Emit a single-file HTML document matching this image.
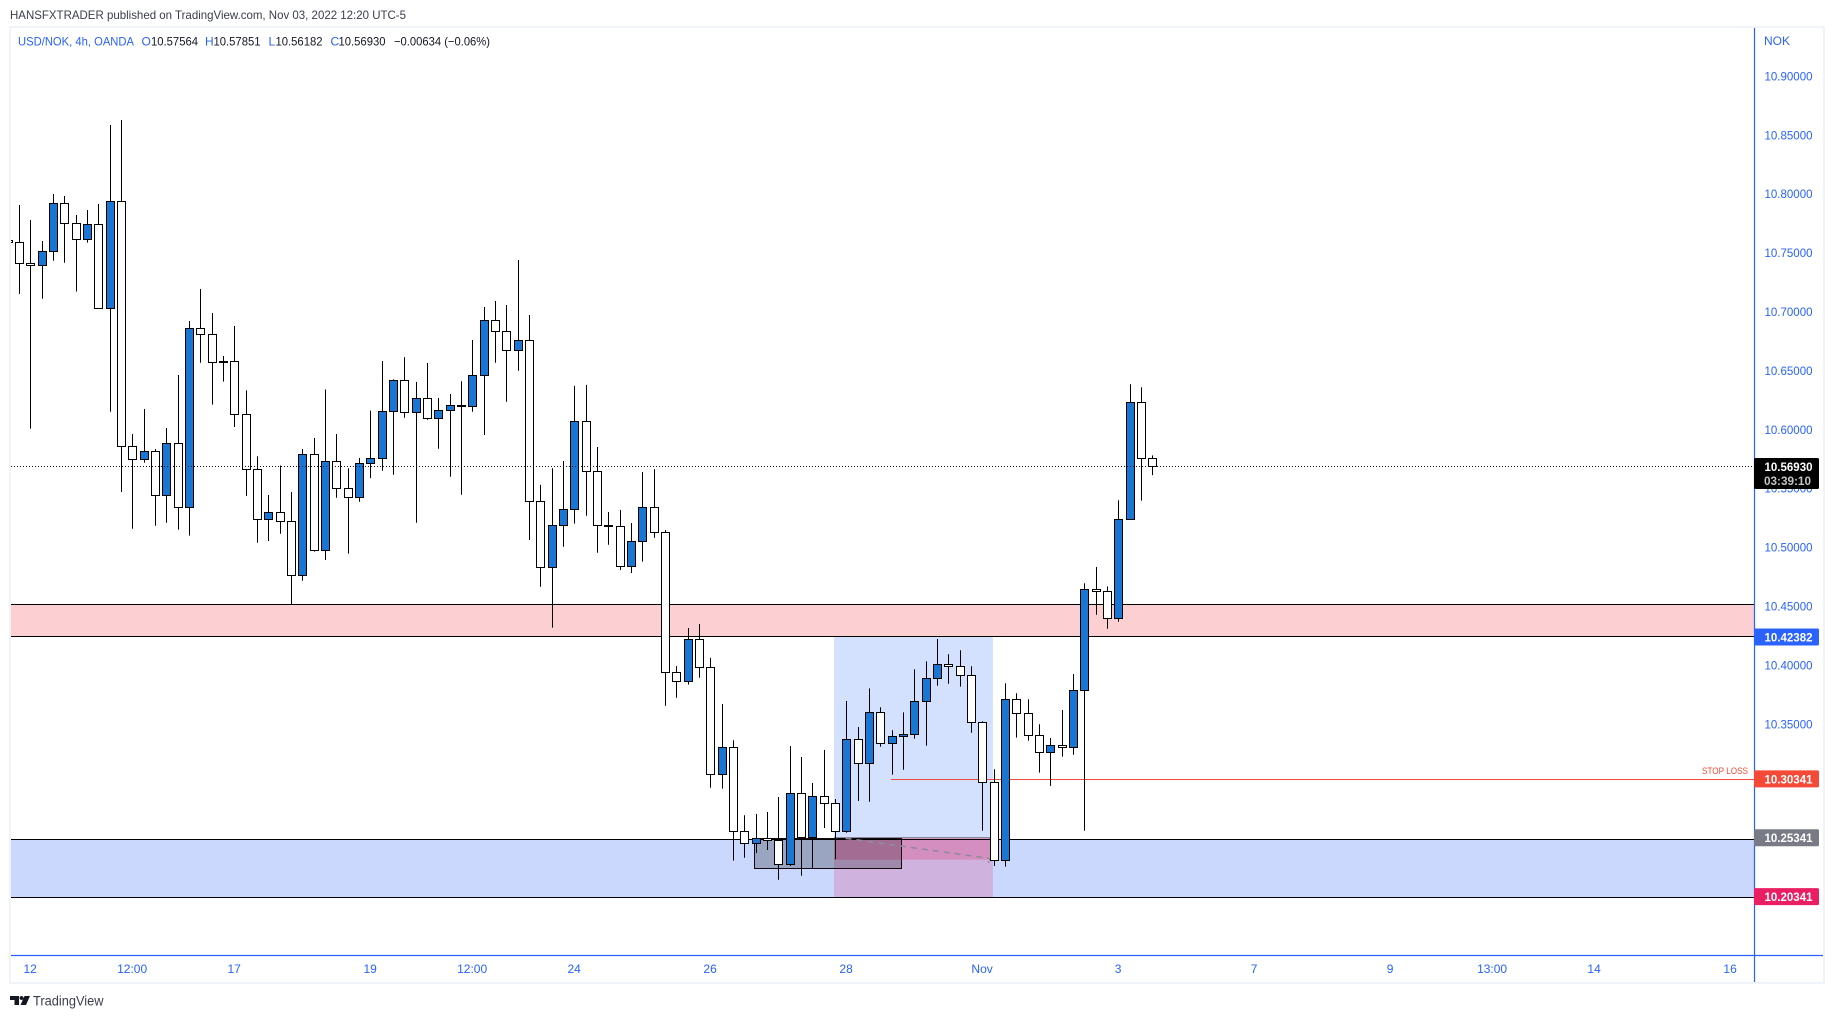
<!DOCTYPE html>
<html lang="en">
<head>
<meta charset="utf-8">
<title>USD/NOK 4h chart</title>
<style>
html,body{margin:0;padding:0;width:1834px;height:1018px;overflow:hidden;background:#fff}
svg{position:absolute;left:0;top:0;display:block}
text{font-family:"Liberation Sans",sans-serif;font-size:12px}
</style>
</head>
<body>
<svg id="chart" xmlns="http://www.w3.org/2000/svg" width="1834" height="1018" viewBox="0 0 1834 1018">
  <defs><clipPath id="pane-clip"><rect x="11" y="28" width="1743" height="927"/></clipPath></defs>
  <text x="10" y="19" fill="#3a3e4a" textLength="396" lengthAdjust="spacingAndGlyphs">HANSFXTRADER published on TradingView.com, Nov 03, 2022 12:20 UTC-5</text>
  <rect x="10" y="27" width="1814" height="956" fill="#fff" stroke="#f0f3fa" stroke-width="2"/>
  <g id="plot" clip-path="url(#pane-clip)"></g>
  <g>
    <text x="18" y="45.5" fill="#2962ff" textLength="116" lengthAdjust="spacingAndGlyphs">USD/NOK, 4h, OANDA</text>
    <text x="141.5" y="45.5" fill="#2962ff">O</text>
    <text x="151" y="45.5" fill="#131722" textLength="47" lengthAdjust="spacingAndGlyphs">10.57564</text>
    <text x="205" y="45.5" fill="#2962ff">H</text>
    <text x="213.5" y="45.5" fill="#131722" textLength="47" lengthAdjust="spacingAndGlyphs">10.57851</text>
    <text x="268.5" y="45.5" fill="#2962ff">L</text>
    <text x="275.5" y="45.5" fill="#131722" textLength="47" lengthAdjust="spacingAndGlyphs">10.56182</text>
    <text x="330.5" y="45.5" fill="#2962ff">C</text>
    <text x="338.5" y="45.5" fill="#131722" textLength="47" lengthAdjust="spacingAndGlyphs">10.56930</text>
    <text x="394" y="45.5" fill="#131722" textLength="96" lengthAdjust="spacingAndGlyphs">−0.00634 (−0.06%)</text>
  </g>
  <line x1="1754.5" y1="28" x2="1754.5" y2="982" stroke="#2962ff" stroke-width="1.2"/>
  <line x1="11" y1="955.5" x2="1823" y2="955.5" stroke="#2962ff" stroke-width="1.2"/>
  <text x="1764" y="45" fill="#2962ff">NOK</text>
  <g id="yticks"></g>
  <g id="xticks"></g>
  <g id="tags"></g>
  <g>
    <path fill="#131722" d="M10 996h9v9h-4.5v-5H10zM21.5 996a2 2 0 1 1-.01 0zM24.5 996h5.5l-4 9h-5.5z"/>
    <text x="33" y="1005.5" fill="#3a3e4a" style="font-size:13.5px" textLength="70.5" lengthAdjust="spacingAndGlyphs">TradingView</text>
  </g>
</svg>
<script>
// ---- candle data (first entry is the bar clipped at the left edge) ----
const opens = [10.7611,10.7594,10.7416,10.7399,10.7518,10.7925,10.7756,10.7620,10.7747,10.7034,10.7942,
10.5862,10.5752,10.5820,10.5446,10.5888,10.5345,10.6864,10.6813,10.6570,10.6584,
10.6134,10.5667,10.5243,10.5302,10.5226,10.4767,10.5795,10.4980,10.5735,10.5506,
10.5429,10.5718,10.5760,10.6160,10.6423,10.6151,10.6270,10.6100,10.6168,10.6199,
10.6202,10.6465,10.6932,10.6839,10.6677,10.6762,10.5396,10.4835,10.5192,10.5328,
10.6075,10.5650,10.5180,10.5184,10.4844,10.5056,10.5345,10.5132,10.3944,10.3867,
10.4224,10.3986,10.3078,10.3307,10.2594,10.2492,10.2535,10.2518,10.2314,10.2917,
10.2543,10.2891,10.2832,10.2594,10.3375,10.3171,10.3604,10.3341,10.3401,10.3417,
10.3698,10.3893,10.4012,10.3995,10.3918,10.3520,10.3010,10.2348,10.3715,10.3596,
10.3409,10.3265,10.3324,10.3307,10.3792,10.4649,10.4632,10.4402,10.5243,10.6236,10.57564];
const highs = [10.7620,10.7911,10.7783,10.7605,10.8004,10.7987,10.7826,10.7868,10.7919,10.8590,10.8632,
10.5967,10.6179,10.5840,10.6018,10.6468,10.6926,10.7198,10.6994,10.6629,10.6884,
10.6337,10.5778,10.5449,10.5700,10.5473,10.5840,10.5933,10.6345,10.5967,10.5676,
10.5763,10.6165,10.6587,10.6431,10.6620,10.6408,10.6570,10.6272,10.6306,10.6416,
10.6765,10.7045,10.7096,10.7062,10.7444,10.6977,10.5535,10.5676,10.5738,10.6375,
10.6384,10.5857,10.5305,10.5322,10.5211,10.5644,10.5669,10.5152,10.3997,10.4320,
10.4354,10.4066,10.3675,10.3367,10.2730,10.2741,10.2758,10.2885,10.3318,10.3225,
10.3004,10.3284,10.2868,10.3700,10.3480,10.3808,10.3647,10.3452,10.3604,10.3970,
10.4037,10.4227,10.4097,10.4131,10.3995,10.3528,10.3121,10.3851,10.3766,10.3715,
10.3503,10.3386,10.3624,10.3930,10.4700,10.4838,10.4673,10.5404,10.6389,10.6364,10.57851];
const lows = [10.7585,10.7155,10.6012,10.7115,10.7438,10.7421,10.7177,10.7591,10.7034,10.6156,10.5476,
10.5163,10.5723,10.5188,10.5214,10.5155,10.5104,10.6572,10.6216,10.6411,10.6026,
10.5442,10.5044,10.5059,10.5120,10.4521,10.4721,10.4968,10.4897,10.5426,10.4951,
10.5392,10.5592,10.5655,10.5621,10.6105,10.5214,10.6088,10.5842,10.5604,10.5451,
10.6156,10.5958,10.6572,10.6241,10.6504,10.5067,10.4670,10.4323,10.5010,10.5206,
10.5273,10.4959,10.5027,10.4812,10.4787,10.4883,10.5086,10.3660,10.3728,10.3839,
10.3898,10.2964,10.2956,10.2345,10.2370,10.2410,10.2435,10.2183,10.2300,10.2217,
10.2280,10.2622,10.2357,10.2582,10.2851,10.2845,10.3312,10.3075,10.3117,10.3380,
10.3321,10.3830,10.3847,10.3822,10.3431,10.2599,10.2300,10.2294,10.3389,10.3363,
10.3092,10.2980,10.3228,10.3244,10.2599,10.4433,10.4314,10.4373,10.5243,10.5401,10.56182];
const closes = [10.7594,10.7416,10.7399,10.7518,10.7925,10.7756,10.7620,10.7747,10.7034,10.7942,10.5862,
10.5752,10.5820,10.5446,10.5888,10.5345,10.6864,10.6813,10.6576,10.6581,10.6134,
10.5667,10.5243,10.5302,10.5226,10.4767,10.5795,10.4980,10.5735,10.5506,10.5429,
10.5718,10.5760,10.6160,10.6423,10.6151,10.6270,10.6100,10.6168,10.6210,10.6210,
10.6465,10.6932,10.6839,10.6677,10.6762,10.5396,10.4835,10.5192,10.5328,10.6075,
10.5650,10.5192,10.5192,10.4844,10.5056,10.5345,10.5132,10.3944,10.3867,10.4224,
10.3986,10.3078,10.3307,10.2594,10.2492,10.2535,10.2515,10.2314,10.2917,10.2543,
10.2891,10.2832,10.2594,10.3375,10.3171,10.3604,10.3341,10.3401,10.3417,10.3698,
10.3893,10.4012,10.3995,10.3918,10.3520,10.3010,10.2348,10.3715,10.3596,10.3409,
10.3265,10.3324,10.3307,10.3792,10.4649,10.4632,10.4402,10.5243,10.6236,10.5760,10.56930];

// ---- axis labels ----
const priceTicks = [10.90,10.85,10.80,10.75,10.70,10.65,10.60,10.55,10.50,10.45,10.40,10.35,10.30,10.25,10.20];
const timeBars = [2,11,20,32,41,50,62,74,86,98,110,122,131,140,152];
const timeLabels = ["12","12:00","17","19","12:00","24","26","28","Nov","3","7","9","13:00","14","16"];

// ---- drawings, in price / bar units ----
const resistanceZone = [10.4521,10.4252];
const supportZone = [10.2526,10.20341];
const lastPrice = 10.56930;
const stopPrice = 10.30341;
const stopStartBar = 77.9;
const positionBars = [72.88,86.9];
const positionPrices = [10.4252,10.2543,10.2353,10.20341];
const boxBars = [65.9,78.9];
const boxPrices = [10.2535,10.2280];
const pathBars = [73.9,86.7];
const pathPrices = [10.2535,10.2362];
const tagPrices = [10.42382,10.30341,10.25341,10.20341];
const tagTexts = ["10.42382","10.30341","10.25341","10.20341"];
const tagColors = ["#2962ff","#f44a37","#787b86","#e91e63"];

// ---- axes ----
const X0 = 8.07, DX = 11.333, Y0 = 76.7, YS = 1178;
function xOf(bar){ return X0 + bar*DX; }
function yOf(price){ return Y0 + (10.9-price)*YS; }
function snap(v){ return Math.round(v-0.5)+0.5; }

const NS = "http://www.w3.org/2000/svg";
function mk(parent, tag, attrs, txt){
  const el = document.createElementNS(NS, tag);
  for(const k in attrs) el.setAttribute(k, attrs[k]);
  if(txt !== undefined) el.textContent = txt;
  parent.appendChild(el);
  return el;
}
const plot = document.getElementById('plot');
const L = 11, R = 1754;
let el;

// zones
el = mk(plot,'rect',{x:L,y:snap(yOf(resistanceZone[0])),width:R-L,height:snap(yOf(resistanceZone[1]))-snap(yOf(resistanceZone[0])),fill:'#fccfd3',stroke:'none'});


el = mk(plot,'rect',{x:L,y:snap(yOf(supportZone[0])),width:R-L,height:snap(yOf(supportZone[1]))-snap(yOf(supportZone[0])),fill:'#c9d8fc',stroke:'none'});



// position tool
const px1 = xOf(positionBars[0]), px2 = xOf(positionBars[1]);
el = mk(plot,'rect',{x:px1,y:yOf(positionPrices[0]),width:px2-px1,height:yOf(positionPrices[1])-yOf(positionPrices[0]),fill:'#d3e0fe'});


el = mk(plot,'rect',{x:px1,y:yOf(positionPrices[1]),width:px2-px1,height:yOf(supportZone[0])-yOf(positionPrices[1]),fill:'#d3b6e0'});


el = mk(plot,'rect',{x:px1,y:yOf(supportZone[0]),width:px2-px1,height:yOf(positionPrices[3])-yOf(supportZone[0]),fill:'rgba(233,30,99,.2)'});


el = mk(plot,'rect',{x:px1,y:yOf(positionPrices[1]),width:px2-px1,height:yOf(positionPrices[2])-yOf(positionPrices[1]),fill:'rgba(233,30,99,.24)'});


el = mk(plot,'line',{x1:px1,x2:px2,y1:snap(yOf(positionPrices[1])),y2:snap(yOf(positionPrices[1])),stroke:'#8a8a9e','stroke-width':1});



// zone border lines
[resistanceZone[0],resistanceZone[1],supportZone[0],supportZone[1]].forEach(function(p){
  const line = mk(plot,'line',{x1:L,x2:R,y1:snap(yOf(p)),y2:snap(yOf(p)),stroke:'#000','stroke-width':1});
  
  
});

// gray box
el = mk(plot,'rect',{x:snap(xOf(boxBars[0])),y:snap(yOf(boxPrices[0])),width:Math.round(xOf(boxBars[1])-xOf(boxBars[0])),height:Math.round(yOf(boxPrices[1])-yOf(boxPrices[0])),fill:'rgba(0,0,0,.23)',stroke:'#160812','stroke-width':1});



// projected path
el = mk(plot,'line',{x1:xOf(pathBars[0]),y1:yOf(pathPrices[0]),x2:xOf(pathBars[1]),y2:yOf(pathPrices[1]),stroke:'#928a9c','stroke-width':1.6,'stroke-dasharray':'6 5'});


el = mk(plot,'line',{x1:xOf(pathBars[1]),y1:yOf(pathPrices[1]),x2:xOf(pathBars[1])-3,y2:yOf(pathPrices[1])+5,stroke:'#928a9c','stroke-width':1.4,'stroke-dasharray':'2 1'});



// stop line
el = mk(plot,'line',{x1:xOf(stopStartBar),x2:R,y1:snap(yOf(stopPrice)),y2:snap(yOf(stopPrice)),stroke:'#ef4a3c','stroke-width':1});


el = mk(plot,'text',{x:1748,y:774,fill:'#f44a37','text-anchor':'end',style:'font-size:9.5px',textLength:46,lengthAdjust:'spacingAndGlyphs'},'STOP LOSS');



// candles
opens.forEach(function(o,k){
  const c = closes[k], up = c > o;
  const cx = snap(xOf(k));
  const top = snap(yOf(Math.max(o,c))), bot = snap(yOf(Math.min(o,c)));
  const g = mk(plot,'g',{});
  
  
  const wick = mk(g,'line',{x1:cx,x2:cx,y1:yOf(highs[k]),y2:yOf(lows[k]),stroke:'#000','stroke-width':1});
  
  
  const body = mk(g,'rect',{x:cx-4,y:top,width:8,height:Math.max(bot-top,1),fill:up?'#1976d2':'#fff',stroke:'#000','stroke-width':1});
  
  
});

// last price line
el = mk(plot,'line',{x1:L,x2:R,y1:snap(yOf(lastPrice)),y2:snap(yOf(lastPrice)),stroke:'#131722','stroke-width':1,'stroke-dasharray':'1 2'});



// price ticks
const yt = document.getElementById('yticks');
priceTicks.forEach(function(p){
  const t = mk(yt,'text',{x:1764.5,y:yOf(p)+3.7,fill:'#2962ff',textLength:48,lengthAdjust:'spacingAndGlyphs'},p.toFixed(5));
  
  
});

// time ticks
const xt = document.getElementById('xticks');
timeLabels.forEach(function(s,i){
  const t = mk(xt,'text',{x:xOf(timeBars[i])-0.6,y:973,fill:'#2962ff','text-anchor':'middle'},s);
  
  
});

// price tags
const tg = document.getElementById('tags');
tagPrices.forEach(function(p,i){
  const cy = yOf(p) - 0.6;
  const r = mk(tg,'rect',{x:1754,y:cy-8.5,width:65,height:17,rx:1.5,fill:tagColors[i]});
  
  
  const t = mk(tg,'text',{x:1764.5,y:cy+4.4,fill:'#fff','font-weight':'bold',textLength:48,lengthAdjust:'spacingAndGlyphs'},tagTexts[i]);
  
  
});
el = mk(tg,'rect',{x:1754,y:458,width:65,height:31,rx:1.5,fill:'#000'});


el = mk(tg,'text',{x:1764.5,y:471,fill:'#fff','font-weight':'bold',textLength:48,lengthAdjust:'spacingAndGlyphs'},lastPrice.toFixed(5));


el = mk(tg,'text',{x:1764,y:485,fill:'#c4c4c4','font-weight':'bold',textLength:47,lengthAdjust:'spacingAndGlyphs'},'03:39:10');


</script>
</body>
</html>
